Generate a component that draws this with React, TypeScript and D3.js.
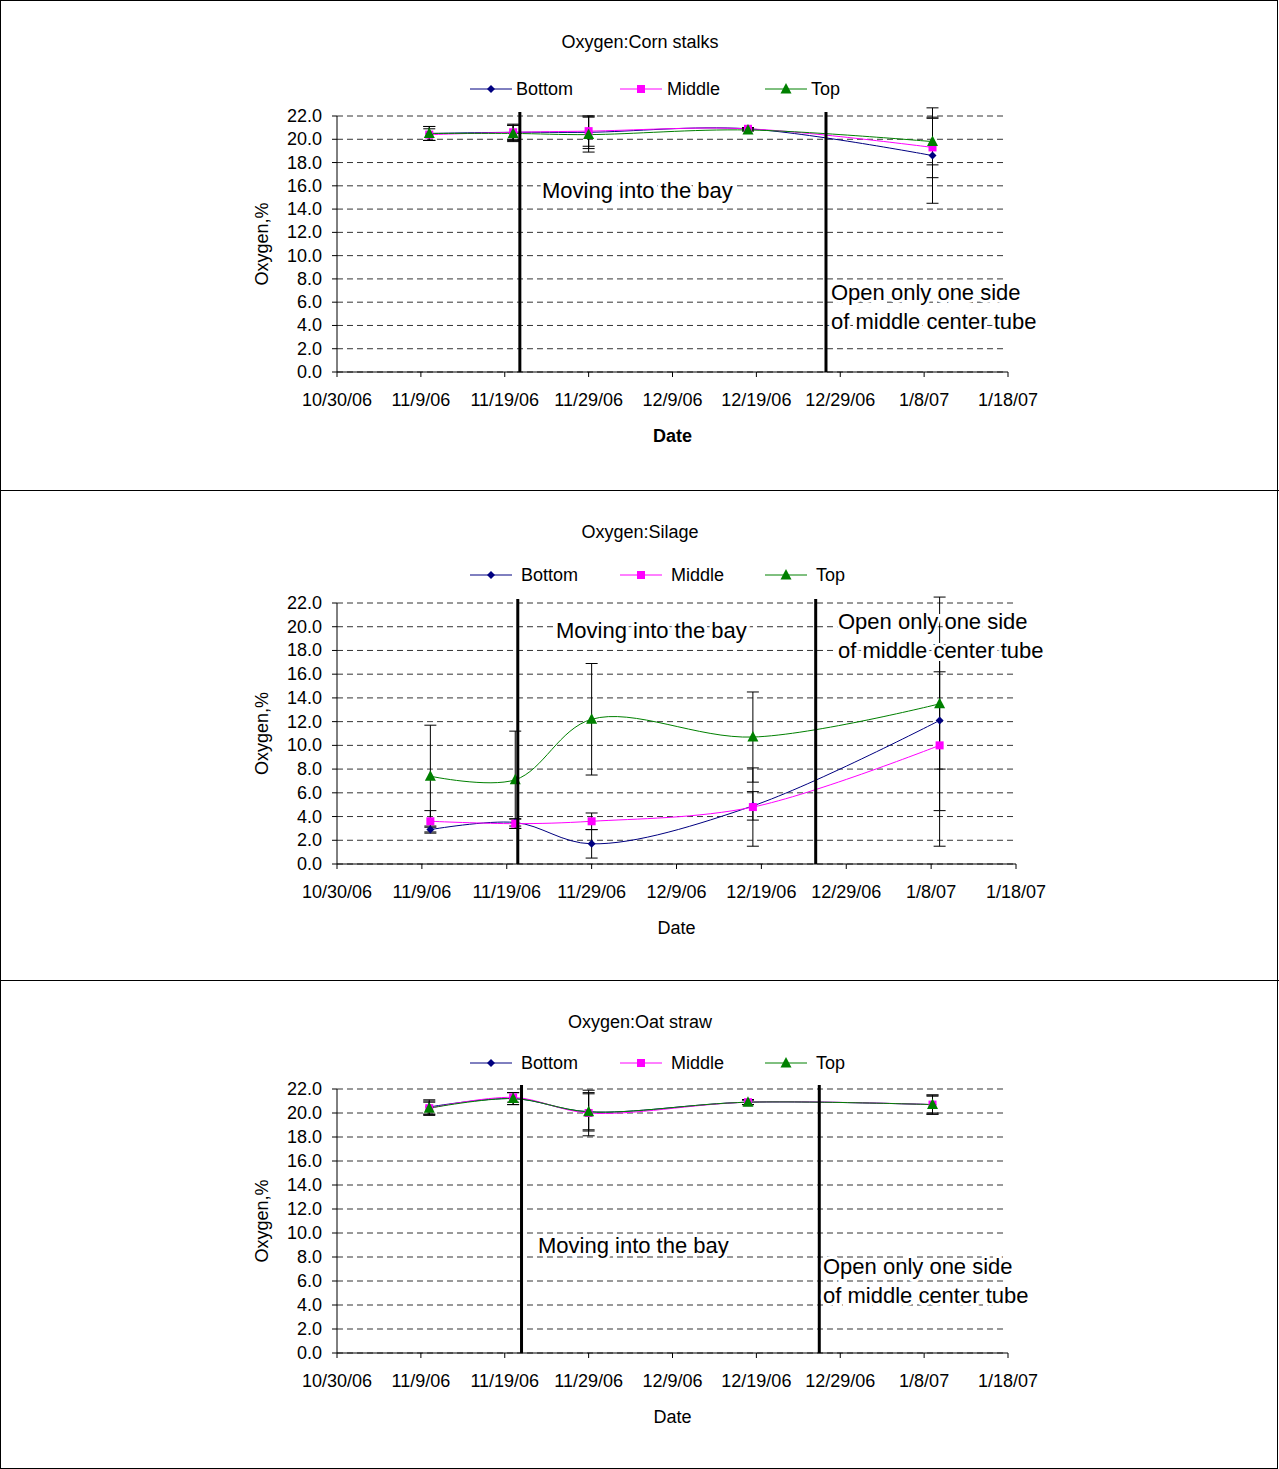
import React from "react";
import * as d3 from "d3";

const tickDates = ["10/30/06","11/9/06","11/19/06","11/29/06","12/9/06","12/19/06","12/29/06","1/8/07","1/18/07"];
const sampleDays = [11, 21, 30, 49, 71]; // days after 10/30/06
const yTicks = [0,2,4,6,8,10,12,14,16,18,20,22];

const cornBottom = [20.5, 20.6, 20.6, 20.9, 18.6];
const cornMiddle = [20.4, 20.6, 20.7, 20.9, 19.3];
const cornTop = [20.5, 20.5, 20.4, 20.8, 19.8];
const cornBottomErr = [0.6, 0.7, 1.4, 0.1, 4.1];
const cornMiddleErr = [0.5, 0.6, 1.3, 0.1, 2.6];
const cornTopErr = [0.6, 0.7, 1.5, 0.1, 2.0];

const silageBottom = [2.9, 3.5, 1.7, 4.9, 12.1];
const silageMiddle = [3.6, 3.4, 3.6, 4.8, 10.0];
const silageTop = [7.4, 7.1, 12.2, 10.7, 13.5];
const silageBottomErr = [0.3, 0.3, 1.2, 1.2, 4.1];
const silageMiddleErr = [0.9, 0.4, 0.7, 3.3, 8.5];
const silageTopErr = [4.3, 4.1, 4.7, 3.8, 9.0];

const oatBottom = [20.5, 21.2, 20.1, 20.9, 20.7];
const oatMiddle = [20.4, 21.3, 20.0, 20.9, 20.7];
const oatTop = [20.4, 21.2, 20.1, 20.9, 20.7];
const oatBottomErr = [0.6, 0.5, 1.6, 0.2, 0.8];
const oatMiddleErr = [0.5, 0.4, 1.9, 0.2, 0.7];
const oatTopErr = [0.6, 0.5, 1.5, 0.2, 0.8];

const seriesNames = ["Bottom", "Middle", "Top"];
const colors = ["#000080", "#FF00FF", "#008000"];

type P = {
  top: number; title: string; xr: number; y0: number; y1: number; vlines: number[];
  data: number[][]; errs: number[][]; xlabelBold?: boolean; ly: number;
  legendText: number[]; ann1: [number, number]; ann2: [number, number];
};

const FONT = "Liberation Sans, Arial, sans-serif";

function Marker({ i, x, y }: { i: number; x: number; y: number }) {
  const c = colors[i];
  if (i === 0) return <path d={`M${x},${y-4}L${x+4},${y}L${x},${y+4}L${x-4},${y}Z`} fill={c} />;
  if (i === 1) return <rect x={x-4} y={y-4} width={8} height={8} fill={c} />;
  return <path d={`M${x},${y-6}L${x+5.5},${y+4.5}L${x-5.5},${y+4.5}Z`} fill={c} />;
}

function Panel(p: P) {
  const x = d3.scaleLinear().domain([0, 80]).range([337, p.xr]);
  const y = d3.scaleLinear().domain([0, 22]).range([p.y0, p.y1]);
  const line = d3.line<number>().x((_, i) => x(sampleDays[i])).y(d => y(d)).curve(d3.curveCatmullRom.alpha(0.5));
  const lx = [470, 620, 765];
  const ly = p.ly;
  const ann = { fontSize: 22, stroke: "#fff", strokeWidth: 6, paintOrder: "stroke" } as any;
  return (
    <g fontFamily={FONT}>
      <text x={640} y={p.top + 48} textAnchor="middle" fontSize={18}>{p.title}</text>
      {seriesNames.map((n, i) => (
        <g key={n}>
          <line x1={lx[i]} x2={lx[i] + 42} y1={ly} y2={ly} stroke={colors[i]} />
          <Marker i={i} x={lx[i] + 21} y={ly} />
          <text x={lx[i] + p.legendText[i]} y={ly + 6} fontSize={18}>{n}</text>
        </g>
      ))}
      {yTicks.map(t => (
        <g key={t}>
          <line x1={337} x2={p.xr - 3} y1={y(t)} y2={y(t)} stroke="#000" strokeDasharray="6,4" strokeWidth={0.8} />
          <line x1={332} x2={337} y1={y(t)} y2={y(t)} stroke="#000" />
          <text x={322} y={y(t) + 6} textAnchor="end" fontSize={18}>{t.toFixed(1)}</text>
        </g>
      ))}
      <line x1={337} x2={337} y1={y(22)} y2={y(0)} stroke="#000" />
      <line x1={337} x2={p.xr} y1={y(0)} y2={y(0)} stroke="#000" />
      {tickDates.map((d, i) => (
        <g key={d}>
          <line x1={x(i * 10)} x2={x(i * 10)} y1={y(0)} y2={y(0) + 5} stroke="#000" />
          <text x={x(i * 10)} y={y(0) + 34} textAnchor="middle" fontSize={18}>{d}</text>
        </g>
      ))}
      <text x={(337 + p.xr) / 2} y={y(0) + 70} textAnchor="middle" fontSize={18} fontWeight={p.xlabelBold ? "bold" : "normal"}>Date</text>
      <text transform={`translate(268,${(y(0) + y(22)) / 2}) rotate(-90)`} textAnchor="middle" fontSize={18}>Oxygen,%</text>
      {p.data.map((s, i) => (
        <g key={i}>
          <path d={line(s) || ""} fill="none" stroke={colors[i]} strokeWidth={1} />
          {s.map((v, j) => {
            const cx = x(sampleDays[j]), e = p.errs[i][j];
            const hi = y(v + e), lo = y(Math.max(0, v - e));
            return (
              <g key={j}>
                <line x1={cx} x2={cx} y1={hi} y2={lo} stroke="#000" />
                <line x1={cx - 6} x2={cx + 6} y1={hi} y2={hi} stroke="#000" />
                <line x1={cx - 6} x2={cx + 6} y1={lo} y2={lo} stroke="#000" />
              </g>
            );
          })}
        </g>
      ))}
      {p.data.map((s, i) => s.map((v, j) => <Marker key={`${i}-${j}`} i={i} x={x(sampleDays[j])} y={y(v)} />))}
      {p.vlines.map((d, i) => (
        <line key={i} x1={x(d)} x2={x(d)} y1={y(22) - 4} y2={y(0)} stroke="#000" strokeWidth={3} />
      ))}
      <text x={p.ann1[0]} y={p.ann1[1]} {...ann}>Moving into the bay</text>
      <text x={p.ann2[0]} y={p.ann2[1]} {...ann}>Open only one side</text>
      <text x={p.ann2[0]} y={p.ann2[1] + 29} {...ann}>of middle center tube</text>
    </g>
  );
}

export default function App() {
  return (
    <svg width={1279} height={1469} style={{ position: "absolute", left: 0, top: 0, background: "#fff" }}>
      <rect x={0.5} y={0.5} width={1277} height={1468} fill="#fff" stroke="#000" />
      <line x1={0} x2={1279} y1={490.5} y2={490.5} stroke="#000" />
      <line x1={0} x2={1279} y1={980.5} y2={980.5} stroke="#000" />
      <Panel top={0} title="Oxygen:Corn stalks" xr={1008} y0={372} y1={116} vlines={[21.8, 58.3]} ly={89}
        data={[cornBottom, cornMiddle, cornTop]} errs={[cornBottomErr, cornMiddleErr, cornTopErr]} xlabelBold
        legendText={[46, 47, 46]} ann1={[542, 198]} ann2={[831, 300]} />
      <Panel top={490} title="Oxygen:Silage" xr={1016} y0={864} y1={603} vlines={[21.3, 56.4]} ly={575}
        data={[silageBottom, silageMiddle, silageTop]} errs={[silageBottomErr, silageMiddleErr, silageTopErr]}
        legendText={[51, 51, 51]} ann1={[556, 638]} ann2={[838, 629]} />
      <Panel top={980} title="Oxygen:Oat straw" xr={1008} y0={1353} y1={1089} vlines={[22, 57.5]} ly={1063}
        data={[oatBottom, oatMiddle, oatTop]} errs={[oatBottomErr, oatMiddleErr, oatTopErr]}
        legendText={[51, 51, 51]} ann1={[538, 1253]} ann2={[823, 1274]} />
    </svg>
  );
}
